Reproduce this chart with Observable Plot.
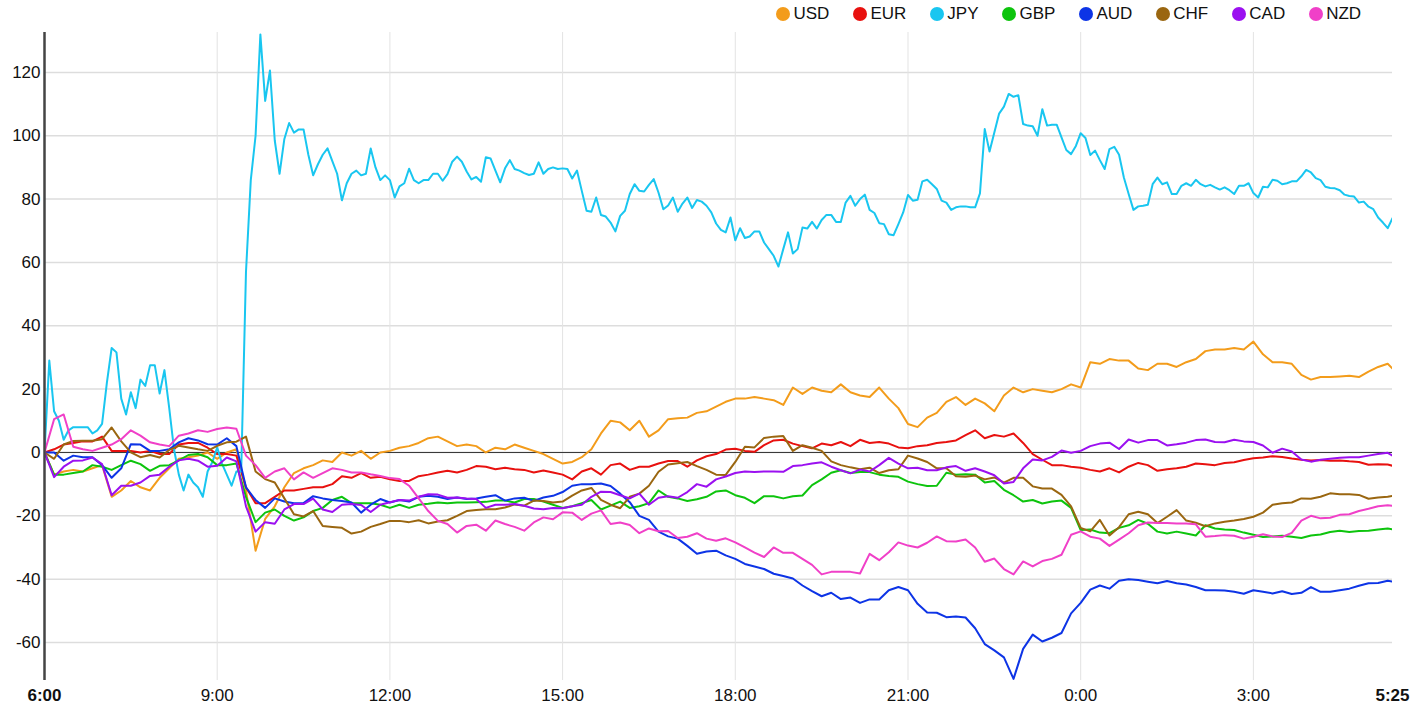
<!DOCTYPE html>
<html><head><meta charset="utf-8">
<script src="https://cdn.jsdelivr.net/npm/d3@7"></script>
<script src="https://cdn.jsdelivr.net/npm/@observablehq/plot@0.6"></script>
<style>
html,body{margin:0;padding:0;background:#fff;}
body{width:1412px;height:712px;overflow:hidden;font-family:"Liberation Sans",Arial,Helvetica,sans-serif;}
#legend{height:28px;display:flex;align-items:center;padding-left:776px;font-size:17px;color:#111;box-sizing:border-box;}
.item{display:flex;align-items:center;margin-right:23.5px;white-space:nowrap;}
.dot{width:14px;height:14px;border-radius:50%;margin-right:3.5px;flex:none;}
#chart svg{display:block;}
</style></head><body>
<div id="legend"></div><div id="chart"></div>
<script>
const currencies = ["USD","EUR","JPY","GBP","AUD","CHF","CAD","NZD"];
const colors = ["#f39c1b","#e8110f","#19c6f0","#0dc40d","#0d34e6","#9a6610","#9b10f0","#f040c8"];
const yTicks = [-60,-40,-20,0,20,40,60,80,100,120];
const xTickHours = [3,6,9,12,15,18,21];       // hours after 6:00 (gridlines + labels)
const xBoldMinutes = [0,1405];                 // 6:00 and 5:25
const stepJPY = 5, stepOther = 10, endMinute = 1405;

const jpy = [0,29,13,10,4,7,8,8,8,8,
6,7,9,22,33,31.6,17,12,19,14,
23,21,27.5,27.5,18.6,26,14,1,-7,-12,
-7,-9.5,-11,-14,-6,-3,1.6,-3.5,-7,-10.5,
-6,-6,57,86,100,132,111,120.6,98.5,88,
99,104,101,102,102,94,87.5,91,94,96,
92,88,79.6,85,88,89,87.5,88,96,90,
86,87.5,86,80.5,84,85,89.6,86,85,86,
86,88,88,85.8,87.9,91.8,93.4,91.8,88.7,86.2,
87,85.5,93.2,92.8,89,85.3,89.7,92.3,89.5,89,
88.2,87.6,88,91.6,88,89.5,90,89.5,89.7,89.5,
86.5,89,82.6,76.3,76,80.5,75,74.5,72.6,69.8,
74.7,76.3,81.6,84.7,82.6,82.4,84.5,86.3,82,76.8,
78,80.5,76,78.6,80.5,77.2,79.7,79.2,77.9,75.8,
72.3,70.3,69.5,74.2,67,70.8,67.7,68.2,69.8,69.8,
66.3,64.2,62.1,58.7,64.2,69.5,62.8,64.2,71,70.7,
72.8,70.7,73.4,75,75,72.8,72.8,78.9,81,77.9,
80,81.4,76.6,75.6,72.4,72.1,68.9,68.6,72.1,75.8,
81.3,79.5,79.8,85.6,86.1,84.7,83.2,79.5,78.9,76.6,
77.4,77.7,77.7,77.4,77.4,81.8,102.1,95,101,107,
109.2,113.2,112.3,112.8,103.7,103.2,103,100,108.4,103.2,
103.5,103.5,99.5,95.5,94.2,96.8,100.8,99.3,93.9,95.3,
92.3,89.5,95.8,96.5,94,86.8,81.6,76.6,77.7,77.9,
78.2,84.7,86.8,84.7,85.3,81.6,81.6,84.2,85,84.2,
86.1,84.7,84,84.5,83.7,83,83.7,82.8,81.6,84.2,
84.2,85,81.9,80.5,83.9,83.7,86.1,85.8,84.7,85,
85.6,85.6,87.2,89.2,88.4,86.6,86,83.9,83.5,83.4,
82.8,81.4,81,80.8,78.9,79.2,77.6,76.8,74.2,72.6,
70.8,74];

const usd = [0,-7,-6,-5.5,-6,-5,-4,-14,-12,-9,
-11,-12,-8,-5,-2,-1.5,-1,0,-2,0,
1,-12,-31,-21,-17,-11,-6.5,-5,-4,-2.5,
-3,0,-1,0.5,-2,0,0.5,1.5,2,3,
4.5,5,3.5,2,2.5,2,0,1.5,1,2.5,
1.5,0.5,-0.5,-2,-3.5,-3,-1.5,1,6,10,
9.5,7,10,5,7,10.5,10.8,11,12.5,13,
14.5,16,17,17,17.5,17,16.5,15,20.5,18.5,
20.5,19.5,19,21.5,19,18,17.5,20.5,17,14,
9,8,11,12.5,16,17.5,15,17,15.5,13,
18,20.5,19,20,19.5,19,20,21.5,20.5,28.5,
28,29.5,29,29,26.5,26,28,28,27,28.5,
29.5,32,32.5,32.5,33,32.5,35,31,28.5,28.5,
28,24.5,23,23.8,23.8,24,24.2,23.8,25.5,27,
28,26.5];

const eur = [0,1,2.5,3,3.5,3.5,5,0.5,0.5,0.5,
0,0.5,-0.5,-0.5,2.5,3,3,1.5,-0.5,-0.5,
-1,-11,-16,-16,-14,-12,-12,-11.5,-11,-11,
-10,-7.5,-8,-6.5,-8,-7.7,-8.5,-9,-9,-7.5,
-7,-6.3,-5.8,-6.3,-5.5,-4.3,-4.5,-5.3,-4.8,-5.3,
-5.5,-6.3,-5.7,-6.3,-7,-8.5,-6,-5,-7,-4,
-3.5,-5.5,-4.5,-4.5,-3.5,-2.7,-2.7,-4.5,-2.5,-1.2,
-0.5,0.9,1.2,0.5,0.2,2.3,3.8,4,2.8,2,
1.3,2.8,2.3,3.3,2,4,3,3.3,2.8,1.6,
1.3,2,2.3,3,3.3,3.8,5.5,7,4.5,5.5,
5,6,3,-0.5,-2.3,-4,-4,-4.5,-4.8,-5.5,
-6,-5,-6.3,-4.5,-3.3,-4,-5.8,-5.3,-5,-4.5,
-3.5,-3.7,-4,-3.3,-3.1,-2.4,-1.8,-1.6,-1.2,-1.4,
-1.9,-2.3,-2.5,-2.4,-2.6,-2.5,-2.8,-3,-3.9,-3.7,
-3.8,-4.2];

const gbp = [0,-7,-7,-6.5,-6,-4,-4.5,-5.5,-4,-2.6,
-3.7,-5.8,-4.2,-4,-2.5,-0.8,-0.5,-1.5,-4,-4,
-3.5,-14,-22,-19,-18,-20,-21.5,-20.5,-18.5,-17.5,
-15,-14,-16,-16,-16,-16.5,-17.5,-16.5,-17.5,-16.5,
-16.2,-15.8,-16,-15.8,-15.8,-15.7,-15.6,-15.2,-15.2,-15.8,
-14.7,-14.7,-15.5,-16.5,-17.5,-17,-16,-15,-18,-16.8,
-15.5,-17.5,-17,-16,-12,-14,-14.5,-15.3,-14.8,-14,
-12.3,-12,-13.5,-14.3,-16,-13.8,-13.8,-14.5,-13.8,-13.6,
-10.3,-8.5,-6.4,-5.6,-6.5,-6.2,-6.2,-7,-7.4,-7.7,
-9.2,-10,-10.6,-10.5,-6.4,-7,-6.9,-7,-9.5,-9,
-11.8,-13.5,-15.5,-15,-16.1,-15.5,-15.2,-17.5,-24.5,-24.3,
-25.3,-25.5,-23.8,-23,-21.3,-22.5,-25,-25.6,-25,-25.6,
-26.2,-23,-24,-24.3,-24.5,-25.3,-26,-26.7,-26.5,-26.3,
-26.6,-27,-26.2,-25.9,-25.1,-24.7,-25.1,-24.8,-24.7,-24.3,
-24,-24.3];

const aud = [0,0,-2.6,-1,-1.5,-1.5,-4,-8,-5,2.6,
2.5,0.5,0.5,1,3.2,4.5,3.8,2.6,2.5,4.5,
2,-11,-15,-17.5,-14.5,-15.5,-16,-16,-13.8,-14.5,
-15,-15.3,-15.8,-19,-16.5,-14.7,-15.8,-15,-15.5,-14,
-13.7,-14,-14.7,-14.2,-14.7,-14.5,-14,-13.5,-15.2,-14.5,
-14.3,-15.3,-14.2,-13.7,-12.5,-10.5,-10,-10,-9.8,-10.6,
-13,-15.7,-20,-21.3,-25,-26.5,-27.2,-29.5,-32,-31.3,
-31,-32.5,-33.6,-35.2,-36,-36.8,-38.3,-39,-39.8,-42,
-43.8,-45.4,-44.3,-46.3,-45.8,-47.5,-46.4,-46.4,-43.5,-42.5,
-43.5,-47.8,-50.5,-50.6,-52,-51.8,-52.1,-55.5,-60.5,-62.5,
-64.7,-71.5,-62,-57.5,-59.7,-58.5,-57,-50.8,-47.5,-43.3,
-42,-43,-40.5,-40,-40.3,-40.8,-41.3,-40.6,-41.3,-41.7,
-42.5,-43.5,-43.5,-43.6,-44,-44.6,-43.5,-44,-44.5,-43.8,
-44.7,-44.3,-42.5,-44,-44,-43.5,-43,-42.1,-41.3,-41.2,
-40.5,-40.8];

const chf = [0,-2,2.5,3.6,3.7,3.7,4.2,7.9,3.5,0,
-1.5,-0.8,-1.6,0.8,2.1,1.6,1,0.5,2.1,3.2,
3.4,5,-6,-8.4,-9.5,-14.5,-19.5,-20.2,-18.5,-23.2,
-23.5,-23.8,-25.6,-25,-23.5,-22.6,-21.6,-21.6,-22,-21.4,
-22.4,-21.8,-21.4,-20,-18.5,-18.2,-17.9,-17.9,-17.4,-16.4,
-16.8,-15.2,-15.3,-15.8,-15.5,-13.6,-12,-11.2,-15,-16.5,
-17.6,-14,-13,-10.5,-6.1,-3.8,-3.4,-3,-4.3,-5.5,
-7,-7.1,-3,1.8,1.6,4.6,5,5.2,0.5,2.3,
1.5,0.5,-2.8,-4,-4.7,-5.3,-4.8,-6.5,-5.6,-5.3,
-1,-1.9,-3,-5,-5,-7.5,-7.7,-7.3,-8.5,-7.9,
-9.5,-8,-8,-10.7,-11.4,-11.4,-13.4,-17,-23.8,-24.9,
-21.3,-26.2,-23.6,-19.5,-18.7,-19.5,-22.3,-20.3,-18.2,-21.5,
-22.2,-23.3,-22.4,-21.9,-21.5,-21,-20.3,-19,-16.5,-16,
-15.8,-14.5,-14.6,-14,-12.9,-13.2,-13.2,-13.4,-14.6,-14.2,
-14,-13.7];

const cad = [0,-7.8,-4.5,-2.6,-2.5,-1.6,-3.7,-13.5,-10.5,-10.5,
-9.5,-7.4,-7,-4.5,-2.5,-2,-2.6,-4.5,-4.2,-1.6,
-2.8,-17,-25,-22,-22.5,-18,-16.3,-16.3,-14.6,-18,
-18.8,-16.5,-16.3,-16.6,-18.8,-16.5,-15.7,-15,-15.2,-14,
-13.2,-13.3,-14.3,-14.2,-14.5,-14.7,-17.5,-16.5,-16.5,-16.3,
-16.8,-17.7,-17.9,-17.5,-17.6,-17,-16.5,-14,-12.4,-12.5,
-13.5,-14.5,-13,-16.5,-14.3,-13.8,-14.3,-12.5,-10,-10.8,
-8.5,-7.6,-6.5,-6,-6.2,-6,-6,-6.1,-4.3,-4,
-3.5,-3.1,-4.5,-5.6,-6.6,-5.4,-6,-4,-1.7,-3.5,
-5,-4.8,-5.6,-5.6,-4.7,-4.3,-5.8,-5,-6,-7.2,
-9.8,-9.3,-5,-2.2,-2.5,-1.4,0.6,-0.1,0.5,2,
2.8,3.1,1.1,4.1,3.1,3.9,3.9,2.2,2.6,3.1,
3.9,4.1,3.3,3.2,4,3.5,3.3,2.2,-0.1,1.2,
0.3,-2.2,-2.9,-2.3,-2,-1.7,-1.5,-1.5,-1,-0.5,
-0.1,-1];

const nzd = [0,10.5,12,1.8,1,0.5,1.5,2.5,4.2,7,
5.3,3.2,2.5,2,5.3,6,7,6.5,7.4,7.9,
7.5,-1,-4,-8,-6,-5,-8.5,-6.3,-8,-6.5,
-5,-5.5,-6.3,-6.3,-6.9,-7.4,-8.1,-8.4,-10.5,-14.5,
-18.5,-21.6,-22.6,-25.3,-23.2,-22.8,-24.7,-21.5,-22.6,-23.5,
-24.7,-22.1,-20.5,-21.1,-18.9,-19,-21.3,-19.3,-18.3,-22.6,
-22.1,-22.9,-25.5,-24,-24.9,-24.8,-27,-26.6,-25.5,-27.2,
-27.9,-27.1,-28.4,-30,-31.6,-33,-30,-31.7,-31.7,-33.6,
-35.5,-38.5,-37.7,-37.7,-37.7,-38.2,-32,-34,-31.5,-28.4,
-29.4,-30,-28.5,-26.5,-28,-28.1,-27.5,-30,-34.5,-33.5,
-36.8,-38.5,-34.4,-36,-34.3,-33.6,-32.3,-26,-24.9,-26.6,
-27.2,-29.5,-27.5,-25.5,-23,-22.1,-22.3,-22.3,-22.4,-22.4,
-22.7,-26.6,-26.4,-26.1,-26.3,-27.2,-26.6,-25.8,-26.5,-26.7,
-25.4,-21.5,-20,-20.8,-20.6,-19.7,-19.5,-18.5,-17.8,-17,
-16.7,-16.8];

// ---- build table ----
const start = new Date(2024, 0, 1, 6, 0, 0);
const atMinute = m => new Date(start.getTime() + m * 60000);
const seriesValues = {USD: usd, EUR: eur, JPY: jpy, GBP: gbp, AUD: aud, CHF: chf, CAD: cad, NZD: nzd};
const rows = [];
for (const c of currencies) {
  const vals = seriesValues[c];
  const step = c === "JPY" ? stepJPY : stepOther;
  vals.forEach((v, i) => rows.push({currency: c, time: atMinute(Math.min(i * step, endMinute)), value: v}));
}
const gridTimes = xTickHours.map(h => atMinute(h * 60));
const boldTimes = xBoldMinutes.map(atMinute);
const fmt = d3.timeFormat("%-H:%M");

// ---- legend ----
const legend = document.getElementById("legend");
currencies.forEach((c, i) => {
  const it = document.createElement("div"); it.className = "item";
  const dot = document.createElement("span"); dot.className = "dot"; dot.style.background = colors[i];
  const lab = document.createElement("span"); lab.textContent = c;
  it.appendChild(dot); it.appendChild(lab); legend.appendChild(it);
});

// ---- chart ----
const chart = Plot.plot({
  width: 1412, height: 684,
  marginTop: 4, marginBottom: 32, marginLeft: 44, marginRight: 20,
  style: {fontSize: "17px", fontFamily: "'Liberation Sans', Arial, Helvetica, sans-serif", color: "#111", background: "#fff", overflow: "visible"},
  x: {type: "time", domain: [atMinute(0), atMinute(endMinute)], label: null},
  y: {domain: [-72, 132.6], label: null},
  color: {domain: currencies, range: colors},
  marks: [
    Plot.gridY(yTicks, {stroke: "#dddddd", strokeOpacity: 1, strokeWidth: 1.5}),
    Plot.gridX(gridTimes, {stroke: "#e3e3e3", strokeOpacity: 1, strokeWidth: 1}),
    Plot.ruleY([0], {stroke: "#333", strokeWidth: 1}),
    Plot.line(rows, {x: "time", y: "value", z: "currency", stroke: "currency", strokeWidth: 2, strokeLinejoin: "round", clip: true}),
    Plot.ruleX([atMinute(0)], {stroke: "#444", strokeWidth: 2.5}),
    Plot.axisY(yTicks, {tickSize: 0, tickPadding: 4, tickFormat: d => String(d), fontSize: 17, label: null}),
    Plot.axisX(gridTimes, {tickSize: 0, tickPadding: 8, tickFormat: fmt, fontSize: 17, label: null}),
    Plot.axisX(boldTimes, {tickSize: 0, tickPadding: 8, tickFormat: fmt, fontSize: 17, fontWeight: "bold", label: null})
  ]
});
document.getElementById("chart").appendChild(chart);
</script>
</body></html>
